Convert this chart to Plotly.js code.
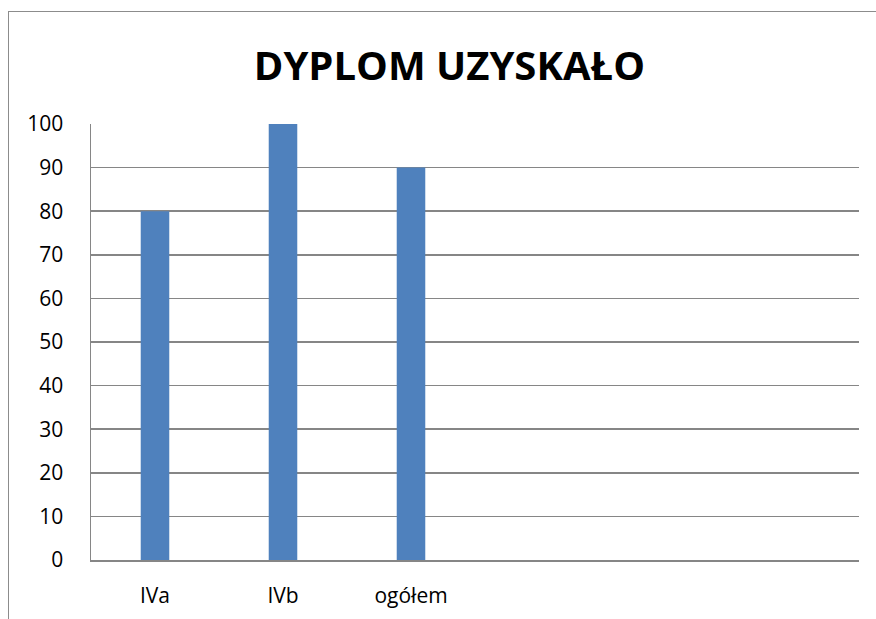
<!DOCTYPE html>
<html>
<head>
<meta charset="utf-8">
<script src="https://cdn.plot.ly/plotly-3.0.1.min.js"></script>
<style>
  html, body { margin: 0; padding: 0; background: #fff; }
  #wrap { position: relative; width: 876px; height: 619px; overflow: hidden; }
  #frame { position: absolute; left: 8px; top: 11px; width: 900px; height: 700px;
           border-left: 1.5px solid #8c8c8c; border-top: 1.5px solid #8c8c8c; pointer-events: none; z-index: 2; }
  #chart { position: absolute; left: 0; top: 0; width: 876px; height: 619px; }
</style>
</head>
<body>
<div id="wrap">
  <div id="chart"></div>
  <div id="frame"></div>
</div>
<script>
const chartTitle = 'DYPLOM UZYSKAŁO';
const categories = ['IVa', 'IVb', 'ogółem'];
const values = [80, 100, 90];
const yTicks = [0, 10, 20, 30, 40, 50, 60, 70, 80, 90, 100];

const trace = {
  type: 'bar',
  x: categories,
  y: values,
  marker: { color: '#4F81BD', line: { width: 0 } },
  hoverinfo: 'none'
};

const layout = {
  width: 876,
  height: 619,
  margin: { l: 91, r: 17, t: 124, b: 59 },
  paper_bgcolor: 'rgba(0,0,0,0)',
  plot_bgcolor: '#fff',
  showlegend: false,
  bargap: 0.777,
  font: { family: 'Open Sans, sans-serif', color: '#000' },
  title: {
    text: chartTitle,
    font: { family: 'Open Sans, sans-serif', size: 40, color: '#000', weight: 'bold' },
    x: 0.513, xanchor: 'center',
    y: 1 - 66 / 619, yanchor: 'middle', yref: 'container'
  },
  xaxis: {
    type: 'category',
    range: [-0.5, 5.5],
    showgrid: false,
    zeroline: false,
    showline: true,
    linecolor: '#868686',
    linewidth: 1.5,
    ticks: '',
    ticklabelstandoff: 16,
    tickfont: { family: 'Open Sans, sans-serif', size: 21, color: '#000' },
    fixedrange: true
  },
  yaxis: {
    range: [0, 100],
    tickvals: yTicks,
    ticktext: yTicks.map(String),
    showgrid: true,
    gridcolor: '#868686',
    gridwidth: 1.5,
    zeroline: false,
    showline: true,
    linecolor: '#868686',
    linewidth: 1.5,
    ticks: '',
    ticklabelstandoff: 22,
    tickfont: { family: 'Open Sans, sans-serif', size: 21, color: '#000' },
    fixedrange: true
  }
};

Plotly.newPlot('chart', [trace], layout, { displayModeBar: false, staticPlot: true });
</script>
</body>
</html>
